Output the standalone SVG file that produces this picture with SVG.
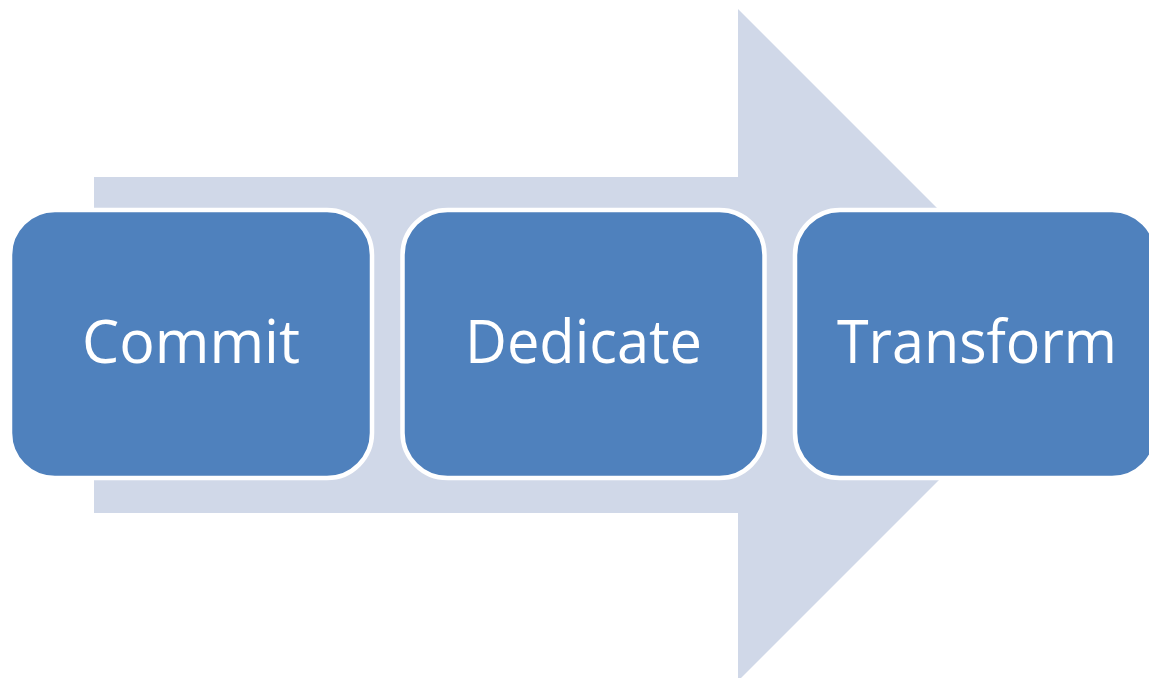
<svg xmlns="http://www.w3.org/2000/svg" width="1149" height="678" viewBox="0 0 1149 678">
  <style>
    .box { fill: #4F81BD; stroke: #FFFFFF; stroke-width: 4.5; }
    .label { fill: #FFFFFF; font-family: "Open Sans", "Liberation Sans", sans-serif; font-size: 60px; text-anchor: middle; }
  </style>
  <rect width="1149" height="678" fill="#FFFFFF"/>
  <g id="arrow">
    <polygon points="94,177 738,177 738,9 1074,345 738,681 738,513 94,513" fill="#D0D8E8"/>
  </g>
  <g id="node-commit">
    <rect class="box" x="10" y="210" width="362" height="268" rx="45" ry="45"/>
    <text class="label" x="191" y="363" textLength="218" lengthAdjust="spacingAndGlyphs">Commit</text>
  </g>
  <g id="node-dedicate">
    <rect class="box" x="402.5" y="210" width="362" height="268" rx="45" ry="45"/>
    <text class="label" x="583.5" y="363" textLength="237" lengthAdjust="spacingAndGlyphs">Dedicate</text>
  </g>
  <g id="node-transform">
    <rect class="box" x="795" y="210" width="362" height="268" rx="45" ry="45"/>
    <text class="label" x="977" y="363" textLength="280" lengthAdjust="spacingAndGlyphs">Transform</text>
  </g>
</svg>
